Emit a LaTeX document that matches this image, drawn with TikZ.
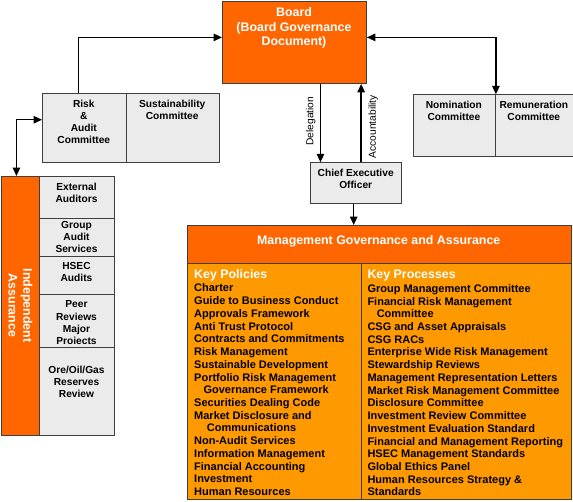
\documentclass[tikz,border=0pt]{standalone}
\usepackage{fontspec}
\setmainfont{Liberation Sans}
\usetikzlibrary{positioning, arrows.meta}
\definecolor{govorange}{HTML}{FF6600}
\definecolor{keyorange}{HTML}{FF9900}
\definecolor{boxgrey}{HTML}{EBEBEB}
\definecolor{boxline}{HTML}{3F3F3F}
\newcommand{\gtfont}{\fontsize{10.2}{12.1}\selectfont\bfseries}
\newcommand{\listfont}{\fontsize{11}{12.72}\selectfont\bfseries}
\newcommand{\headfont}{\fontsize{12.4}{14.7}\selectfont\bfseries}
\tikzset{
    govbox/.style={draw=boxline, line width=0.9pt, fill=govorange, anchor=north west, inner sep=0pt},
    keybox/.style={draw=boxline, line width=0.9pt, fill=keyorange, anchor=north west, inner sep=0pt},
    cbox/.style={draw=boxline, line width=0.9pt, fill=boxgrey, anchor=north west, inner sep=0pt},
    ctext/.style={font=\gtfont, align=center, anchor=north, inner sep=0pt},
    wtext/.style={font=\headfont, text=white, align=center, inner sep=0pt},
    ltext/.style={font=\listfont, align=left, anchor=north west, inner sep=0pt},
    flow/.style={-{Triangle[length=8.5pt, width=7.5pt]}, line width=1.4pt},
    dflow/.style={{Triangle[length=8.5pt, width=7.5pt]}-{Triangle[length=8.5pt, width=7.5pt]}, line width=1.4pt},
    flowlbl/.style={font=\fontsize{10.2}{12}\selectfont, rotate=90, inner sep=0pt},
}
\begin{document}
\begin{tikzpicture}[x=1pt, y=-1pt]
        \useasboundingbox (0,0) rectangle (573,501);
        % Board
        \node[govbox, minimum width=144pt, minimum height=82.5pt] (board) at (222,0.5) {};
        \node[wtext, anchor=north] (boardtxt) at (294,7.3) {Board\\(Board Governance\\Document)};
        % Committees
        \node[cbox, minimum width=83.7pt, minimum height=69pt] (risk) at (42,93) {};
        \node[cbox, minimum width=93pt, minimum height=69pt] (sust) at (125.7,93) {};
        \node[ctext] (risktxt) at (83.8,99.6) {Risk\\\&\\Audit\\Committee};
        \node[ctext] (susttxt) at (172.2,100.3) {Sustainability\\Committee};
        \node[cbox, minimum width=82.3pt, minimum height=61.4pt] (nom) at (412.7,94.3) {};
        \node[cbox, minimum width=77.7pt, minimum height=61.4pt] (rem) at (495,94.3) {};
        \node[ctext] (nomtxt) at (453.9,100.6) {Nomination\\Committee};
        \node[ctext] (remtxt) at (533.8,100.6) {Remuneration\\Committee};
        % Chief Executive
        \node[cbox, minimum width=91.3pt, minimum height=41pt] (ceo) at (310,162.3) {};
        \node[ctext] (ceotxt) at (355.7,169) {Chief Executive\\Officer};
        % Independent assurance
        \node[govbox, minimum width=38pt, minimum height=259pt] (ia) at (1,176) {};
        \node[wtext, rotate=-90] (iatxt) at (20.5,305.5) {Independent\\Assurance};
        \node[cbox, minimum width=75.3pt, minimum height=41.7pt] (ext) at (39,176) {};
        \node[cbox, minimum width=75.3pt, minimum height=38.3pt] (grp) at (39,217.7) {};
        \node[cbox, minimum width=75.3pt, minimum height=38.3pt] (hsec) at (39,256) {};
        \node[cbox, minimum width=75.3pt, minimum height=53pt] (peer) at (39,294.3) {};
        \node[cbox, minimum width=75.3pt, minimum height=87.7pt] (ore) at (39,347.3) {};
        \node[ctext] (exttxt) at (76.5,183) {External\\Auditors};
        \node[ctext] (grptxt) at (76.5,220.7) {Group\\Audit\\Services};
        \node[ctext] (hsectxt) at (76.5,262.3) {HSEC\\Audits};
        \node[ctext] (peertxt) at (76.5,300.7) {Peer\\Reviews\\Major\\Proiects};
        \node[ctext] (oretxt) at (76.5,365.7) {Ore/Oil/Gas\\Reserves\\Review};
        % Management governance and assurance
        \node[govbox, minimum width=384pt, minimum height=37.7pt] (mga) at (186.7,225) {};
        \node[wtext, anchor=base] (mgatxt) at (378.7,244.4) {Management Governance and Assurance};
        \node[keybox, minimum width=174pt, minimum height=236.6pt] (pol) at (186.7,262.7) {};
        \node[keybox, minimum width=210pt, minimum height=236.6pt] (proc) at (360.7,262.7) {};
        \node[wtext, anchor=north west] (poltitle) at (194,269.6) {Key Policies};
        \node[wtext, anchor=north west] (proctitle) at (367.3,269.6) {Key Processes};
        \node[ltext] (pollist) at (194,283.8) {Charter\\Guide to Business Conduct\\Approvals Framework\\Anti Trust Protocol\\Contracts and Commitments\\Risk Management\\Sustainable Development\\Portfolio Risk Management\\\hspace*{9.3pt}Governance Framework\\Securities Dealing Code\\Market Disclosure and\\\hspace*{12.7pt}Communications\\Non-Audit Services\\Information Management\\Financial Accounting\\Investment\\Human Resources};
        \node[ltext] (proclist) at (367.3,284.2) {Group Management Committee\\Financial Risk Management\\\hspace*{9.3pt}Committee\\CSG and Asset Appraisals\\CSG RACs\\Enterprise Wide Risk Management\\Stewardship Reviews\\Management Representation Letters\\Market Risk Management Committee\\Disclosure Committee\\Investment Review Committee\\Investment Evaluation Standard\\Financial and Management Reporting\\HSEC Management Standards\\Global Ethics Panel\\Human Resources Strategy \&\\Standards};
        % Connectors
        \draw[flow] ([xshift=-5.8pt]risk.north) |- ([yshift=4.8pt]board.west);
        \draw[dflow] ([yshift=4.8pt]board.east) -| (nom.north east);
        \draw[dflow] ([yshift=8.2pt]risk.west) -| ([xshift=-4pt]ia.north);
        \draw[flow] ([xshift=26pt]board.south) -- ([xshift=26pt]board.south |- ceo.north);
        \draw[flow] ([xshift=66.7pt]board.south |- ceo.north) -- ([xshift=66.7pt]board.south);
        \draw[flow] ([xshift=-2.4pt]ceo.south) -- ([xshift=-2.4pt]ceo.south |- mga.north);
        \node[flowlbl] (dlbl) at (310.7,121.2) {Delegation};
        \node[flowlbl] (albl) at (373.3,126.7) {Accountability};
    \end{tikzpicture}
\end{document}
